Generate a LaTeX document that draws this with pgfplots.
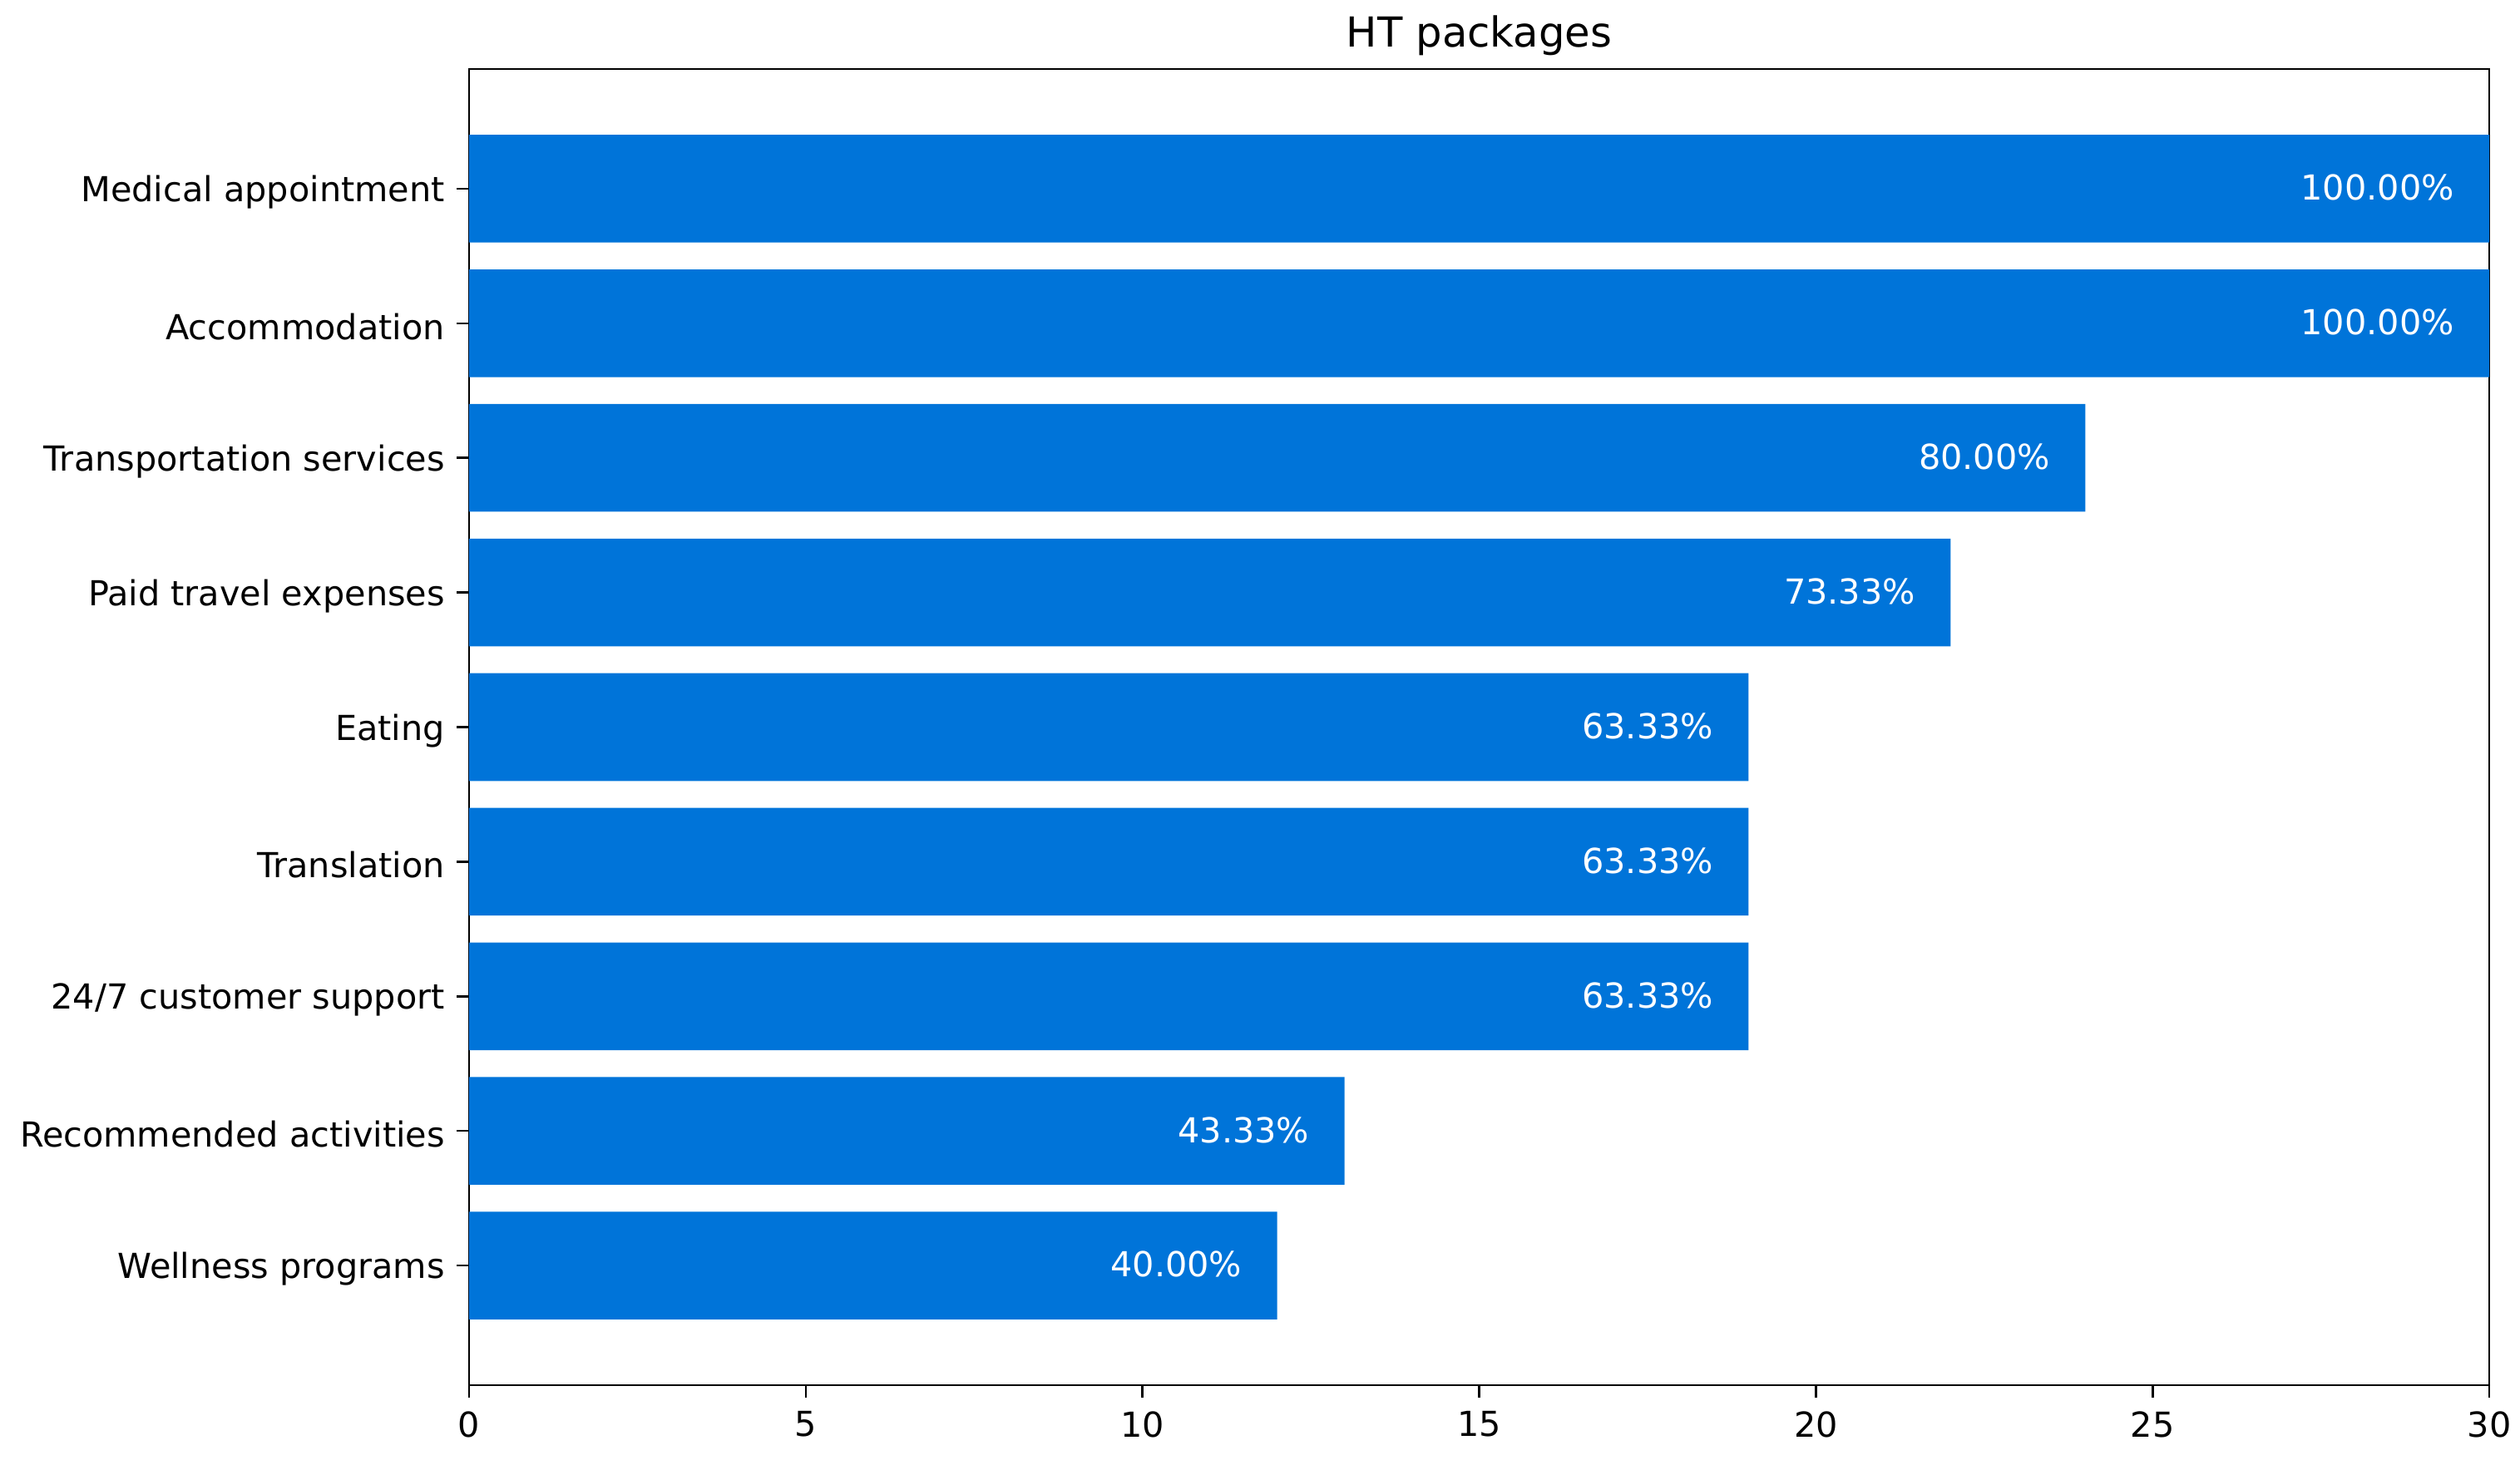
\documentclass[border=0pt]{standalone}
\usepackage{pgfplots}
\pgfplotsset{compat=1.18}
\usepackage{fontspec}
\setmainfont{DejaVu Sans}
\definecolor{barblue}{RGB}{0,116,217}
\begin{document}
\begin{tikzpicture}
\begin{axis}[
  name=ax,
  scale only axis,
  width=586.7pt, height=382.4pt,
  xbar, bar width=0.8,
  xmin=0, xmax=30,
  ymin=-0.89, ymax=8.89,
  xtick={0,5,10,15,20,25,30},
  ytick={0,1,2,3,4,5,6,7,8},
  yticklabels={Wellness programs,Recommended activities,24/7 customer support,Translation,Eating,Paid travel expenses,Transportation services,Accommodation,Medical appointment},
  tick align=outside, major tick length=3.5pt,
  xtick pos=bottom, ytick pos=left,
  tick style={black, line width=0.6pt},
  axis line style={line width=0.6pt},
  ticklabel style={font=\fontsize{10}{12}\selectfont},
  yticklabel style={yshift=-1pt},
  xticklabel style={yshift=-0.5pt},
  /pgf/number format/assume math mode=true,
  title={HT packages},
  title style={font=\fontsize{12}{14}\selectfont, yshift=-5.7pt},
  point meta=explicit symbolic,
  nodes near coords,
  nodes near coords style={anchor=east, xshift=-6.7pt, yshift=0.3pt, text=white, font=\fontsize{10}{12}\selectfont},
]
\addplot[fill=barblue, draw=none] coordinates {
  (12,0) [40.00\%]
  (13,1) [43.33\%]
  (19,2) [63.33\%]
  (19,3) [63.33\%]
  (19,4) [63.33\%]
  (22,5) [73.33\%]
  (24,6) [80.00\%]
  (30,7) [100.00\%]
  (30,8) [100.00\%]
};
\end{axis}
\pgfresetboundingbox
\path ([shift={(-136.2pt,-23pt)}]ax.south west) rectangle ([shift={(8.9pt,20pt)}]ax.north east);
\end{tikzpicture}
\end{document}
